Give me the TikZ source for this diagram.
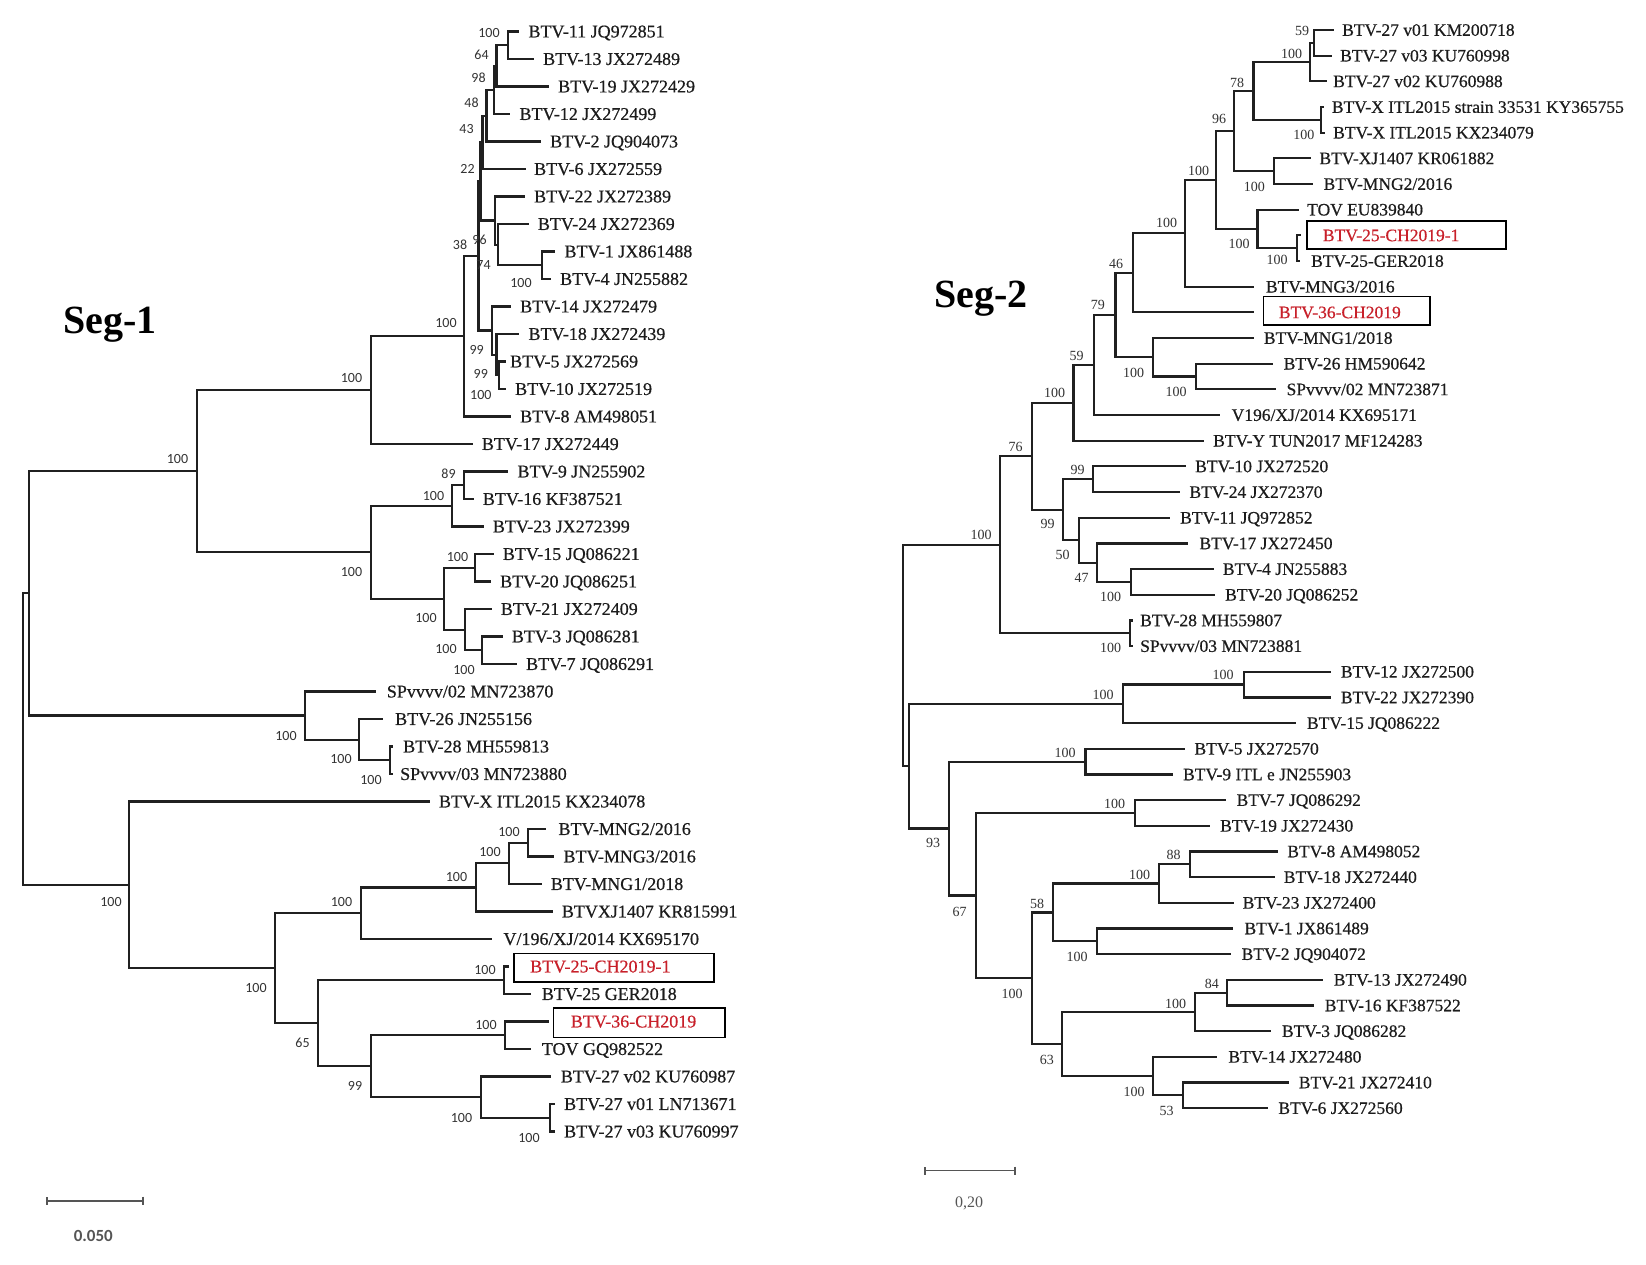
\documentclass[tikz,border=0pt]{standalone}
\usepackage{fontspec}
\setmainfont{Liberation Serif}
\newfontfamily\leaffont{Liberation Serif}[FakeBold=0.5]
\newfontfamily\cfont{Carlito}
\usetikzlibrary{arrows.meta}
\definecolor{linec}{HTML}{202020}
\definecolor{leafc}{HTML}{1C1C1C}
\definecolor{redt}{HTML}{C8202A}
\definecolor{bsc}{HTML}{333333}
\definecolor{sbc}{HTML}{555555}
\tikzset{
  br/.style={draw=linec, line width=2.2pt},
  leafL/.style={anchor=west, inner ysep=0pt, text=leafc, font=\leaffont\fontsize{18}{18}\selectfont, text height=11.9pt, text depth=0pt},
  leafR/.style={anchor=west, inner ysep=0pt, text=leafc, font=\leaffont\fontsize{17.5}{17.5}\selectfont, text height=11.6pt, text depth=0pt},
  bsL/.style={inner sep=0pt, text=bsc, font=\cfont\fontsize{14}{14}\selectfont},
  bsR/.style={inner sep=0pt, text=bsc, font=\fontsize{14}{14}\selectfont},
  boxst/.style={draw=black, line width=1.6pt, inner sep=0pt},
  titlest/.style={inner sep=0pt, anchor=base west, font=\fontsize{40}{40}\selectfont\bfseries},
  scalebar/.style={draw=sbc, line width=1.8pt, {Bar[width=8pt]}-{Bar[width=8pt]}},
}
\newcommand{\lfL}[5][9]{\node[leafL,inner xsep=#1pt,xshift=-#1pt] (#2) at (#3,#4) {#5};}
\newcommand{\lfR}[5][10]{\node[leafR,inner xsep=#1pt,xshift=-#1pt] (#2) at (#3,#4) {#5};}
\begin{document}
\begin{tikzpicture}[x=1pt,y=-1pt]
\useasboundingbox (0,0) rectangle (1646,1265);
\fill[white] (0,0) rectangle (1646,1265);

% ---------------- Titles ----------------
\node[titlest] (seg1) at (63,333) {Seg-1};
\node[titlest] (seg2) at (934,308) {Seg-2};

% ================= LEFT TREE (Seg-1) =================
\lfL{L0}{528.3}{31.5}{BTV-11 JQ972851}
\lfL{L1}{543}{59}{BTV-13 JX272489}
\lfL{L2}{558}{86.5}{BTV-19 JX272429}
\lfL{L3}{519.3}{114}{BTV-12 JX272499}
\lfL{L4}{550}{141.5}{BTV-2 JQ904073}
\lfL[8]{L5}{534}{169}{BTV-6 JX272559}
\lfL{L6}{534}{196.5}{BTV-22 JX272389}
\lfL{L7}{537.7}{224}{BTV-24 JX272369}
\lfL{L8}{564.3}{251.5}{BTV-1 JX861488}
\lfL{L9}{560}{279}{BTV-4 JN255882}
\lfL{L10}{520}{306.5}{BTV-14 JX272479}
\lfL{L11}{528.3}{334}{BTV-18 JX272439}
\lfL[4]{L12}{510}{361.5}{BTV-5 JX272569}
\lfL{L13}{515}{389}{BTV-10 JX272519}
\lfL{L14}{520}{416.5}{BTV-8 AM498051}
\lfL{L15}{481.7}{444}{BTV-17 JX272449}
\lfL{L16}{517.3}{471.5}{BTV-9 JN255902}
\lfL{L17}{482.7}{499}{BTV-16 KF387521}
\lfL{L18}{492.7}{526.5}{BTV-23 JX272399}
\lfL{L19}{502.7}{554}{BTV-15 JQ086221}
\lfL{L20}{500}{581.5}{BTV-20 JQ086251}
\lfL{L21}{500.7}{609}{BTV-21 JX272409}
\lfL{L22}{511.7}{636.5}{BTV-3 JQ086281}
\lfL{L23}{526}{664}{BTV-7 JQ086291}
\lfL[11]{L24}{386.7}{691.5}{SPvvvv/02 MN723870}
\lfL[12]{L25}{395}{719}{BTV-26 JN255156}
\lfL[10]{L26}{403}{746.5}{BTV-28 MH559813}
\lfL[7]{L27}{400}{774}{SPvvvv/03 MN723880}
\lfL{L28}{438.8}{801.5}{BTV-X ITL2015 KX234078}
\lfL[12]{L29}{558.3}{829}{BTV-MNG2/2016}
\lfL{L30}{563.3}{856.5}{BTV-MNG3/2016}
\lfL{L31}{550.7}{884}{BTV-MNG1/2018}
\lfL{L32}{561.7}{911.5}{BTVXJ1407 KR815991}
\lfL[11]{L33}{503.3}{939}{V/196/XJ/2014 KX695170}
\lfL[21]{L34}{530}{966.5}{\textcolor{redt}{BTV-25-CH2019-1}}
\lfL[11]{L35}{541.7}{994}{BTV-25 GER2018}
\lfL[22]{L36}{570.7}{1021.5}{\textcolor{redt}{BTV-36-CH2019}}
\lfL[11]{L37}{541.7}{1049}{TOV GQ982522}
\lfL[10]{L38}{560.7}{1076.5}{BTV-27 v02 KU760987}
\lfL{L39}{564}{1104}{BTV-27 v01 LN713671}
\lfL{L40}{564}{1131.5}{BTV-27 v03 KU760997}

\node[boxst, minimum width=200pt, minimum height=28.4pt] (lbox1) at (614,967.5) {};
\node[boxst, minimum width=171.7pt, minimum height=29.6pt] (lbox2) at (639.2,1022.5) {};

\coordinate (a100) at (508,45.25);
\coordinate (a64) at (496.5,65.88);
\coordinate (a98) at (494,89.94);
\coordinate (a48) at (486.5,115.72);
\coordinate (a43) at (482.5,142.36);
\coordinate (a22) at (480.5,181.46);
\coordinate (b100) at (541.7,265.25);
\coordinate (b74) at (498,244.63);
\coordinate (b96) at (495,220.56);
\coordinate (c100) at (499,375.25);
\coordinate (c99a) at (496.5,354.63);
\coordinate (c99b) at (492,330.56);
\coordinate (nB) at (478.5,256.01);
\coordinate (nA) at (464,336.25);
\coordinate (N3) at (371,390.13);
\coordinate (e89) at (464.3,485.25);
\coordinate (e100d) at (452.3,505.88);
\coordinate (e100e) at (475,567.75);
\coordinate (e100f) at (482.3,650.25);
\coordinate (e100g) at (465,629.63);
\coordinate (e100h) at (444.3,598.69);
\coordinate (N4) at (370.7,552.28);
\coordinate (N2) at (196.7,471.2);
\coordinate (f100j) at (390,760.25);
\coordinate (f100i) at (359.3,739.63);
\coordinate (NSP) at (305,715.56);
\coordinate (N1) at (29.3,593.38);
\coordinate (g9) at (528.3,842.75);
\coordinate (g8) at (509.3,863.38);
\coordinate (g7) at (476,887.44);
\coordinate (g6) at (361,913.22);
\coordinate (g11) at (504.3,980.25);
\coordinate (g13) at (505,1035.25);
\coordinate (g15) at (550,1117.75);
\coordinate (g14) at (480.7,1097.13);
\coordinate (g12) at (371,1066.19);
\coordinate (g10) at (318.3,1023.22);
\coordinate (g5) at (275,968.22);
\coordinate (Nbot) at (129.3,884.86);
\coordinate (Rt) at (23.3,739.12);

\draw[br] (a100) |- (L0.west); \draw[br] (a100) |- (L1.west);
\draw[br] (a64) |- (a100); \draw[br] (a64) |- (L2.west);
\draw[br] (a98) |- (a64); \draw[br] (a98) |- (L3.west);
\draw[br] (a48) |- (a98); \draw[br] (a48) |- (L4.west);
\draw[br] (a43) |- (a48); \draw[br] (a43) |- (L5.west);
\draw[br] (a22) |- (a43); \draw[br] (a22) |- (b96);
\draw[br] (b96) |- (L6.west); \draw[br] (b96) |- (b74);
\draw[br] (b74) |- (L7.west); \draw[br] (b74) |- (b100);
\draw[br] (b100) |- (L8.west); \draw[br] (b100) |- (L9.west);
\draw[br] (c100) |- (L12.west); \draw[br] (c100) |- (L13.west);
\draw[br] (c99a) |- (L11.west); \draw[br] (c99a) |- (c100);
\draw[br] (c99b) |- (L10.west); \draw[br] (c99b) |- (c99a);
\draw[br] (nB) |- (a22); \draw[br] (nB) |- (c99b);
\draw[br] (nA) |- (nB); \draw[br] (nA) |- (L14.west);
\draw[br] (N3) |- (nA); \draw[br] (N3) |- (L15.west);
\draw[br] (e89) |- (L16.west); \draw[br] (e89) |- (L17.west);
\draw[br] (e100d) |- (e89); \draw[br] (e100d) |- (L18.west);
\draw[br] (e100e) |- (L19.west); \draw[br] (e100e) |- (L20.west);
\draw[br] (e100f) |- (L22.west); \draw[br] (e100f) |- (L23.west);
\draw[br] (e100g) |- (L21.west); \draw[br] (e100g) |- (e100f);
\draw[br] (e100h) |- (e100e); \draw[br] (e100h) |- (e100g);
\draw[br] (N4) |- (e100d); \draw[br] (N4) |- (e100h);
\draw[br] (N2) |- (N3); \draw[br] (N2) |- (N4);
\draw[br] (f100j) |- (L26.west); \draw[br] (f100j) |- (L27.west);
\draw[br] (f100i) |- (L25.west); \draw[br] (f100i) |- (f100j);
\draw[br] (NSP) |- (L24.west); \draw[br] (NSP) |- (f100i);
\draw[br] (N1) |- (N2); \draw[br] (N1) |- (NSP);
\draw[br] (g9) |- (L29.west); \draw[br] (g9) |- (L30.west);
\draw[br] (g8) |- (g9); \draw[br] (g8) |- (L31.west);
\draw[br] (g7) |- (g8); \draw[br] (g7) |- (L32.west);
\draw[br] (g6) |- (g7); \draw[br] (g6) |- (L33.west);
\draw[br] (g11) |- (L34.west); \draw[br] (g11) |- (L35.west);
\draw[br] (g13) |- (L36.west); \draw[br] (g13) |- (L37.west);
\draw[br] (g15) |- (L39.west); \draw[br] (g15) |- (L40.west);
\draw[br] (g14) |- (L38.west); \draw[br] (g14) |- (g15);
\draw[br] (g12) |- (g13); \draw[br] (g12) |- (g14);
\draw[br] (g10) |- (g11); \draw[br] (g10) |- (g12);
\draw[br] (g5) |- (g6); \draw[br] (g5) |- (g10);
\draw[br] (Nbot) |- (L28.west); \draw[br] (Nbot) |- (g5);
\draw[br] (Rt) |- (N1); \draw[br] (Rt) |- (Nbot);

% left bootstrap values
\node[bsL] (lb1) at (489,32.7) {100};
\node[bsL] (lb2) at (481.5,55) {64};
\node[bsL] (lb3) at (478.5,78) {98};
\node[bsL] (lb4) at (471.5,103) {48};
\node[bsL] (lb5) at (466.5,129) {43};
\node[bsL] (lb6) at (467.5,169) {22};
\node[bsL] (lb7) at (460,245) {38};
\node[bsL] (lb8) at (479.5,240) {96};
\node[bsL] (lb9) at (483.5,265) {74};
\node[bsL] (lb10) at (521,283.3) {100};
\node[bsL] (lb11) at (446,323.3) {100};
\node[bsL] (lb12) at (476.7,350) {99};
\node[bsL] (lb13) at (480.8,374) {99};
\node[bsL] (lb14) at (480.8,395) {100};
\node[bsL] (lb15) at (351.5,378.3) {100};
\node[bsL] (lb16) at (177.5,459.3) {100};
\node[bsL] (lb17) at (448.5,474) {89};
\node[bsL] (lb18) at (433.5,495.7) {100};
\node[bsL] (lb19) at (351.5,571.7) {100};
\node[bsL] (lb20) at (457.5,556.7) {100};
\node[bsL] (lb21) at (426,618.3) {100};
\node[bsL] (lb22) at (446,649) {100};
\node[bsL] (lb23) at (464,670) {100};
\node[bsL] (lb24) at (286,736) {100};
\node[bsL] (lb25) at (341,759.3) {100};
\node[bsL] (lb26) at (371,780) {100};
\node[bsL] (lb27) at (111,902) {100};
\node[bsL] (lb28) at (509,831.7) {100};
\node[bsL] (lb29) at (490,852.3) {100};
\node[bsL] (lb30) at (456.5,876.7) {100};
\node[bsL] (lb31) at (341.5,901.7) {100};
\node[bsL] (lb32) at (256,988.3) {100};
\node[bsL] (lb33) at (485,970) {100};
\node[bsL] (lb34) at (486,1025) {100};
\node[bsL] (lb35) at (302.5,1043.3) {65};
\node[bsL] (lb36) at (355,1086) {99};
\node[bsL] (lb37) at (461.5,1117.7) {100};
\node[bsL] (lb38) at (529,1138.3) {100};

% left scale bar
\coordinate (sb1a) at (45.7,1200.7);
\coordinate (sb1b) at (144,1200.7);
\draw[scalebar] (sb1a) -- (sb1b);
\node[inner sep=0pt, text=sbc, font=\cfont\fontsize{17}{17}\selectfont\bfseries] (sb1t) at (93.3,1236) {0.050};

% ================= RIGHT TREE (Seg-2) =================
\lfR[8]{R0}{1342}{30}{BTV-27 v01 KM200718}
\lfR[8]{R1}{1340}{55.67}{BTV-27 v03 KU760998}
\lfR[6]{R2}{1333}{81.34}{BTV-27 v02 KU760988}
\lfR[8]{R3}{1331.7}{107.01}{BTV-X ITL2015 strain 33531 KY365755}
\lfR[8]{R4}{1333}{132.68}{BTV-X ITL2015 KX234079}
\lfR[8]{R5}{1319.3}{158.35}{BTV-XJ1407 KR061882}
\lfR{R6}{1323.4}{184.02}{BTV-MNG2/2016}
\lfR[8]{R7}{1307}{209.69}{TOV EU839840}
\lfR[22]{R8}{1322.7}{235.36}{\textcolor{redt}{BTV-25-CH2019-1}}
\lfR[11]{R9}{1311}{261.03}{BTV-25-GER2018}
\lfR[12]{R10}{1265.8}{286.7}{BTV-MNG3/2016}
\lfR[25]{R11}{1278.7}{312.37}{\textcolor{redt}{BTV-36-CH2019}}
\lfR{R12}{1263.7}{338.04}{BTV-MNG1/2018}
\lfR[11]{R13}{1283.5}{363.71}{BTV-26 HM590642}
\lfR{R14}{1286.4}{389.38}{SPvvvv/02 MN723871}
\lfR[12]{R15}{1231.5}{415.05}{V196/XJ/2014 KX695171}
\lfR[9]{R16}{1213}{440.72}{BTV-Y TUN2017 MF124283}
\lfR[9]{R17}{1195}{466.39}{BTV-10 JX272520}
\lfR[9]{R18}{1189.3}{492.06}{BTV-24 JX272370}
\lfR{R19}{1180}{517.73}{BTV-11 JQ972852}
\lfR[11]{R20}{1199.3}{543.4}{BTV-17 JX272450}
\lfR[9]{R21}{1222.7}{569.07}{BTV-4 JN255883}
\lfR{R22}{1225}{594.74}{BTV-20 JQ086252}
\lfR[7]{R23}{1140}{620.41}{BTV-28 MH559807}
\lfR[7]{R24}{1140}{646.08}{SPvvvv/03 MN723881}
\lfR{R25}{1340.7}{671.75}{BTV-12 JX272500}
\lfR{R26}{1340.7}{697.42}{BTV-22 JX272390}
\lfR[11]{R27}{1306.8}{723.09}{BTV-15 JQ086222}
\lfR[9]{R28}{1194.3}{748.76}{BTV-5 JX272570}
\lfR{R29}{1182.9}{774.43}{BTV-9 ITL e JN255903}
\lfR{R30}{1236.4}{800.1}{BTV-7 JQ086292}
\lfR{R31}{1220}{825.77}{BTV-19 JX272430}
\lfR[9]{R32}{1287.1}{851.44}{BTV-8 AM498052}
\lfR[9]{R33}{1283.6}{877.11}{BTV-18 JX272440}
\lfR[9]{R34}{1242.5}{902.78}{BTV-23 JX272400}
\lfR[11]{R35}{1244.3}{928.45}{BTV-1 JX861489}
\lfR{R36}{1241.4}{954.12}{BTV-2 JQ904072}
\lfR[11]{R37}{1333.6}{979.79}{BTV-13 JX272490}
\lfR[11]{R38}{1324.6}{1005.46}{BTV-16 KF387522}
\lfR[11]{R39}{1281.8}{1031.13}{BTV-3 JQ086282}
\lfR[11]{R40}{1228.2}{1056.8}{BTV-14 JX272480}
\lfR{R41}{1298.6}{1082.47}{BTV-21 JX272410}
\lfR{R42}{1278.2}{1108.14}{BTV-6 JX272560}

\node[boxst, minimum width=199pt, minimum height=28pt] (rbox1) at (1406.5,235) {};
\node[boxst, minimum width=166.5pt, minimum height=28.5pt] (rbox2) at (1346.7,310.8) {};

\coordinate (r59) at (1314,42.84);
\coordinate (r100a) at (1310,62.09);
\coordinate (r100k) at (1320.6,119.85);
\coordinate (r78) at (1253.4,90.97);
\coordinate (r100l) at (1274,171.19);
\coordinate (r96) at (1234,131.08);
\coordinate (r100o) at (1296.7,248.2);
\coordinate (r100n) at (1257.5,228.94);
\coordinate (r100m) at (1216.3,180.01);
\coordinate (r100p) at (1184.6,233.36);
\coordinate (r46) at (1132.7,272.87);
\coordinate (r100r) at (1195.7,376.55);
\coordinate (r100q) at (1153.3,357.3);
\coordinate (r79) at (1115.4,315.09);
\coordinate (r59b) at (1094,365.07);
\coordinate (r100s) at (1073.5,402.9);
\coordinate (r99d) at (1093.3,479.23);
\coordinate (r100t) at (1130.7,581.9);
\coordinate (r47) at (1097.3,562.65);
\coordinate (r50) at (1079,540.19);
\coordinate (r99c) at (1062.7,509.71);
\coordinate (r76) at (1031.7,456.3);
\coordinate (r100v) at (1130,633.25);
\coordinate (r100u) at (1000,544.78);
\coordinate (r100x) at (1243.6,684.59);
\coordinate (r100w) at (1122.9,703.84);
\coordinate (r100y) at (1085.4,761.6);
\coordinate (r100z) at (1134.6,812.94);
\coordinate (r88) at (1190,864.28);
\coordinate (r100ab) at (1158.6,883.53);
\coordinate (r100ac) at (1096.8,941.29);
\coordinate (r58) at (1053.2,912.41);
\coordinate (r84) at (1227.1,992.63);
\coordinate (r100ad) at (1195,1011.88);
\coordinate (r53) at (1182.9,1095.31);
\coordinate (r100ae) at (1153.2,1076.06);
\coordinate (r63) at (1062.1,1043.97);
\coordinate (r100aa) at (1031.8,978.19);
\coordinate (r67) at (975.7,895.57);
\coordinate (r93) at (948.6,828.59);
\coordinate (r906) at (908.6,766.21);
\coordinate (rRoot) at (903,655.5);

\draw[br] (r59) |- (R0.west); \draw[br] (r59) |- (R1.west);
\draw[br] (r100a) |- (r59); \draw[br] (r100a) |- (R2.west);
\draw[br] (r100k) |- (R3.west); \draw[br] (r100k) |- (R4.west);
\draw[br] (r78) |- (r100a); \draw[br] (r78) |- (r100k);
\draw[br] (r100l) |- (R5.west); \draw[br] (r100l) |- (R6.west);
\draw[br] (r96) |- (r78); \draw[br] (r96) |- (r100l);
\draw[br] (r100o) |- (R8.west); \draw[br] (r100o) |- (R9.west);
\draw[br] (r100n) |- (R7.west); \draw[br] (r100n) |- (r100o);
\draw[br] (r100m) |- (r96); \draw[br] (r100m) |- (r100n);
\draw[br] (r100p) |- (r100m); \draw[br] (r100p) |- (R10.west);
\draw[br] (r46) |- (r100p); \draw[br] (r46) |- (R11.west);
\draw[br] (r100r) |- (R13.west); \draw[br] (r100r) |- (R14.west);
\draw[br] (r100q) |- (R12.west); \draw[br] (r100q) |- (r100r);
\draw[br] (r79) |- (r46); \draw[br] (r79) |- (r100q);
\draw[br] (r59b) |- (r79); \draw[br] (r59b) |- (R15.west);
\draw[br] (r100s) |- (r59b); \draw[br] (r100s) |- (R16.west);
\draw[br] (r99d) |- (R17.west); \draw[br] (r99d) |- (R18.west);
\draw[br] (r100t) |- (R21.west); \draw[br] (r100t) |- (R22.west);
\draw[br] (r47) |- (R20.west); \draw[br] (r47) |- (r100t);
\draw[br] (r50) |- (R19.west); \draw[br] (r50) |- (r47);
\draw[br] (r99c) |- (r99d); \draw[br] (r99c) |- (r50);
\draw[br] (r76) |- (r100s); \draw[br] (r76) |- (r99c);
\draw[br] (r100v) |- (R23.west); \draw[br] (r100v) |- (R24.west);
\draw[br] (r100u) |- (r76); \draw[br] (r100u) |- (r100v);
\draw[br] (r100x) |- (R25.west); \draw[br] (r100x) |- (R26.west);
\draw[br] (r100w) |- (r100x); \draw[br] (r100w) |- (R27.west);
\draw[br] (r100y) |- (R28.west); \draw[br] (r100y) |- (R29.west);
\draw[br] (r100z) |- (R30.west); \draw[br] (r100z) |- (R31.west);
\draw[br] (r88) |- (R32.west); \draw[br] (r88) |- (R33.west);
\draw[br] (r100ab) |- (r88); \draw[br] (r100ab) |- (R34.west);
\draw[br] (r100ac) |- (R35.west); \draw[br] (r100ac) |- (R36.west);
\draw[br] (r58) |- (r100ab); \draw[br] (r58) |- (r100ac);
\draw[br] (r84) |- (R37.west); \draw[br] (r84) |- (R38.west);
\draw[br] (r100ad) |- (r84); \draw[br] (r100ad) |- (R39.west);
\draw[br] (r53) |- (R41.west); \draw[br] (r53) |- (R42.west);
\draw[br] (r100ae) |- (R40.west); \draw[br] (r100ae) |- (r53);
\draw[br] (r63) |- (r100ad); \draw[br] (r63) |- (r100ae);
\draw[br] (r100aa) |- (r58); \draw[br] (r100aa) |- (r63);
\draw[br] (r67) |- (r100z); \draw[br] (r67) |- (r100aa);
\draw[br] (r93) |- (r100y); \draw[br] (r93) |- (r67);
\draw[br] (r906) |- (r100w); \draw[br] (r906) |- (r93);
\draw[br] (rRoot) |- (r100u); \draw[br] (rRoot) |- (r906);

% right bootstrap values
\node[bsR] (rb1) at (1302,31) {59};
\node[bsR] (rb2) at (1291.6,54) {100};
\node[bsR] (rb3) at (1237,82.7) {78};
\node[bsR] (rb4) at (1303.8,135) {100};
\node[bsR] (rb5) at (1219,119) {96};
\node[bsR] (rb6) at (1254.4,186.7) {100};
\node[bsR] (rb7) at (1198.7,170.7) {100};
\node[bsR] (rb8) at (1239,244) {100};
\node[bsR] (rb9) at (1277,260) {100};
\node[bsR] (rb10) at (1166.5,223) {100};
\node[bsR] (rb11) at (1116,263.5) {46};
\node[bsR] (rb12) at (1097.8,305) {79};
\node[bsR] (rb13) at (1133.5,372.5) {100};
\node[bsR] (rb14) at (1176,391.7) {100};
\node[bsR] (rb15) at (1076.7,355.5) {59};
\node[bsR] (rb16) at (1054.5,393) {100};
\node[bsR] (rb17) at (1015.5,446.5) {76};
\node[bsR] (rb18) at (1077.5,470) {99};
\node[bsR] (rb19) at (1047.5,524) {99};
\node[bsR] (rb20) at (1062.5,555) {50};
\node[bsR] (rb21) at (1081.5,578.3) {47};
\node[bsR] (rb22) at (1110.5,597.3) {100};
\node[bsR] (rb23) at (981,535) {100};
\node[bsR] (rb24) at (1110.5,648.3) {100};
\node[bsR] (rb25) at (1223,675) {100};
\node[bsR] (rb26) at (1103,695) {100};
\node[bsR] (rb27) at (1065,752.5) {100};
\node[bsR] (rb28) at (933,843.2) {93};
\node[bsR] (rb29) at (1114.6,803.6) {100};
\node[bsR] (rb30) at (959.5,911.5) {67};
\node[bsR] (rb31) at (1173.7,855.3) {88};
\node[bsR] (rb32) at (1139.5,874.8) {100};
\node[bsR] (rb33) at (1037,904) {58};
\node[bsR] (rb34) at (1077.2,957.3) {100};
\node[bsR] (rb35) at (1012,993.5) {100};
\node[bsR] (rb36) at (1211.8,984) {84};
\node[bsR] (rb37) at (1175.6,1003.5) {100};
\node[bsR] (rb38) at (1046.8,1060.2) {63};
\node[bsR] (rb39) at (1134,1091.8) {100};
\node[bsR] (rb40) at (1166.5,1110.7) {53};

% right scale bar
\coordinate (sb2a) at (923.7,1170.5);
\coordinate (sb2b) at (1015.5,1170.5);
\draw[scalebar] (sb2a) -- (sb2b);
\node[inner sep=0pt, text=sbc, font=\fontsize{16}{16}\selectfont] (sb2t) at (969,1203.5) {0,20};
\end{tikzpicture}
\end{document}
